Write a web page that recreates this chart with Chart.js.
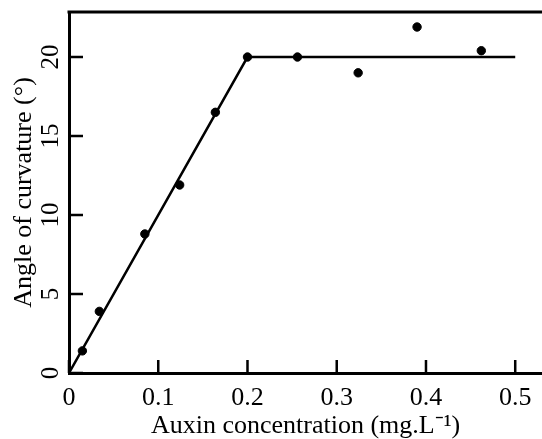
<!DOCTYPE html>
<html>
<head>
<meta charset="utf-8">
<script src="https://cdn.jsdelivr.net/npm/chart.js@4/dist/chart.umd.min.js"></script>
<style>
  html, body { margin: 0; padding: 0; background: #fff; }
  #wrap { width: 542px; height: 439px; position: relative; }
</style>
</head>
<body>
<div id="wrap"><canvas id="curveChart"></canvas></div>
<script>
// measured curvature vs auxin dose
const concentration = [0.015, 0.034, 0.085, 0.124, 0.164, 0.2, 0.256, 0.324, 0.39, 0.462];
const angle = [1.4, 3.9, 8.8, 11.9, 16.5, 20, 20, 19, 21.9, 20.4];

// fitted response: linear rise then plateau
const fitX = [0, 0.2, 0.5];
const fitY = [0, 20, 20];

const serif = "'Liberation Serif', 'Times New Roman', serif";

// inward tick marks and the top frame line
const frame = {
  id: 'frame',
  afterDatasetsDraw(chart) {
    const { ctx, chartArea: a, scales: { x, y } } = chart;
    ctx.save();
    ctx.strokeStyle = '#000';
    ctx.lineWidth = 2.5;
    ctx.beginPath();
    x.ticks.forEach((t, i) => {
      const px = x.getPixelForTick(i);
      ctx.moveTo(px, a.bottom);
      ctx.lineTo(px, a.bottom - 13);
    });
    y.ticks.forEach((t, i) => {
      const py = y.getPixelForTick(i);
      ctx.moveTo(a.left, py);
      ctx.lineTo(a.left + 14, py);
    });
    ctx.stroke();
    ctx.lineWidth = 3;
    ctx.beginPath();
    ctx.moveTo(a.left - 1.5, a.top);
    ctx.lineTo(a.right, a.top);
    ctx.stroke();
    ctx.restore();
  }
};

new Chart(document.getElementById('curveChart'), {
  type: 'scatter',
  data: {
    datasets: [
      {
        label: 'Fit',
        data: fitX.map((v, i) => ({ x: v, y: fitY[i] })),
        showLine: true,
        borderColor: '#000',
        borderWidth: 2.5,
        pointRadius: 0,
        tension: 0
      },
      {
        label: 'Measured',
        data: concentration.map((v, i) => ({ x: v, y: angle[i] })),
        backgroundColor: '#000',
        borderColor: '#000',
        pointRadius: 4.2,
        pointHoverRadius: 4.2
      }
    ]
  },
  options: {
    responsive: true,
    maintainAspectRatio: false,
    animation: false,
    layout: { autoPadding: false, padding: { top: 12, right: 0, bottom: 0, left: 0 } },
    plugins: { legend: { display: false }, tooltip: { enabled: false } },
    scales: {
      x: {
        type: 'linear',
        min: 0,
        max: 0.53,
        afterFit: s => {
          s.height = 66;
          s.paddingLeft = 0;
          s.paddingRight = 0;
        },
        border: { color: '#000', width: 3 },
        grid: { drawOnChartArea: false, drawTicks: false },
        ticks: {
          stepSize: 0.1,
          includeBounds: false,
          padding: 10,
          color: '#000',
          font: { family: serif, size: 26 }
        },
        title: {
          display: true,
          text: 'Auxin concentration (mg.L\u207B\u00B9)',
          color: '#000',
          padding: { top: 0, bottom: 0 },
          font: { family: serif, size: 26, lineHeight: 1 }
        }
      },
      y: {
        type: 'linear',
        min: 0,
        max: 22.85,
        afterFit: s => {
          s.width = 69;
          s.paddingTop = 0;
          s.paddingBottom = 0;
        },
        border: { color: '#000', width: 3 },
        grid: { drawOnChartArea: false, drawTicks: false },
        ticks: {
          stepSize: 5,
          includeBounds: false,
          minRotation: 90,
          maxRotation: 90,
          crossAlign: 'center',
          padding: 5,
          color: '#000',
          font: { family: serif, size: 25 }
        },
        title: {
          display: true,
          text: 'Angle of curvature (\u00B0)',
          color: '#000',
          padding: { top: 11, bottom: 0 },
          font: { family: serif, size: 26, lineHeight: 1 }
        }
      }
    }
  },
  plugins: [frame]
});
</script>
</body>
</html>
